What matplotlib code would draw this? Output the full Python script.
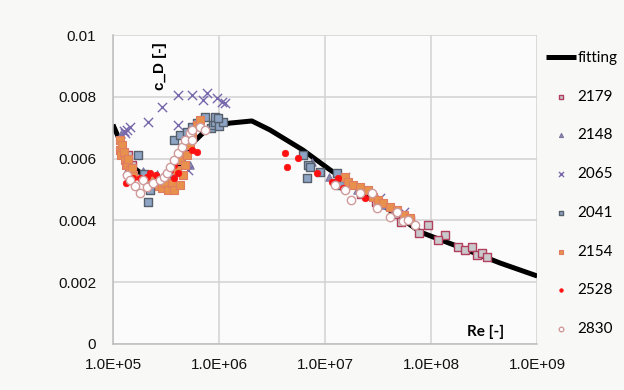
import numpy as np
import matplotlib
matplotlib.use("Agg")
import matplotlib.pyplot as plt

# fitted drag coefficient curve
fit_re = [1.0e5, 1.26e5, 1.58e5, 2.24e5, 3.16e5, 3.98e5, 5.62e5, 7.94e5, 1.26e6, 2.04e6,
          3.02e6, 6.17e6, 1.12e7, 3.16e7, 7.94e7, 2.19e8, 4.47e8, 1.0e9]
fit_cd = [0.0071, 0.0063, 0.0057, 0.0053, 0.0053, 0.0056, 0.0065, 0.0070, 0.00715, 0.00722,
          0.00693, 0.00628, 0.00563, 0.0046, 0.00362, 0.00304, 0.00262, 0.0022]

# measured series
re_2179 = [1.38e5, 1.5e5, 3.2e5, 4.6e7, 5.2e7, 6.3e7, 9.3e7, 7.6e7, 1.35e8, 1.17e8, 1.78e8, 2.09e8, 2.45e8, 2.69e8, 3.02e8, 3.39e8, 2.2e7, 3.0e7]
cd_2179 = [0.00612, 0.0058, 0.0054, 0.0042, 0.00395, 0.0040, 0.00385, 0.00359, 0.00353, 0.00337, 0.00314, 0.00304, 0.00314, 0.00288, 0.00294, 0.00282, 0.00485, 0.0046]

re_2148 = [1.2e5, 1.4e5, 1.9e5, 2.0e5, 2.6e5, 4.9e5, 5.3e5, 7.5e6, 1.1e7, 1.5e7, 2.0e7, 2.7e7, 3.6e7, 4.5e7]
cd_2148 = [0.0068, 0.0057, 0.0056, 0.0054, 0.0055, 0.0062, 0.0058, 0.0059, 0.0054, 0.0052, 0.0050, 0.0048, 0.0045, 0.0043]

re_2065 = [1.26e5, 1.29e5, 1.35e5, 1.45e5, 1.35e5, 2.14e5, 2.88e5, 4.07e5, 4.07e5, 5.62e5, 5.13e5, 7.08e5, 7.76e5, 9.55e5, 1.07e6, 1.15e6, 1.55e7, 3.31e7, 5.5e7]
cd_2065 = [0.0069, 0.00683, 0.00693, 0.00702, 0.00563, 0.00718, 0.00767, 0.00806, 0.00709, 0.00806, 0.00563, 0.0079, 0.00812, 0.00796, 0.00783, 0.0078, 0.0054, 0.00472, 0.00427]

re_2041 = [1.74e5, 1.95e5, 2.14e5, 2.24e5, 2.5e5, 3.63e5, 3.8e5, 4.27e5, 5.01e5, 5.62e5, 6.17e5, 7.41e5, 8.32e5, 8.7e5, 9.12e5, 9.12e5, 1.0e6, 1.1e6, 9.77e5,
           6.17e6, 6.92e6, 6.76e6, 7.24e6, 8.91e6, 1.29e7, 1.29e7, 1.38e7]
cd_2041 = [0.00612, 0.0055, 0.0046, 0.00498, 0.0053, 0.00553, 0.0066, 0.00676, 0.00686, 0.00702, 0.00715, 0.00735, 0.00699, 0.0071, 0.00718, 0.00735, 0.00705, 0.00718, 0.00731,
           0.00612, 0.00579, 0.00537, 0.00573, 0.00557, 0.00553, 0.00521, 0.00515]

re_2154 = [1.17e5, 1.17e5, 1.2e5, 1.23e5, 1.26e5, 1.29e5, 1.32e5, 1.35e5, 1.45e5, 1.55e5, 1.4e5, 1.5e5,
           2.24e5, 2.4e5, 2.51e5, 2.7e5, 2.88e5, 3.1e5, 3.31e5, 3.63e5, 3.8e5, 3.98e5, 4.27e5, 4.27e5, 4.47e5, 4.57e5, 4.79e5, 5.01e5, 5.37e5, 5.62e5, 6.17e5, 6.61e5,
           1.55e7, 1.66e7, 1.82e7, 2.14e7, 2.51e7, 2.82e7, 3.16e7, 3.55e7, 4.07e7, 4.79e7, 5.5e7, 6.31e7]
cd_2154 = [0.0066, 0.00628, 0.00612, 0.00644, 0.0062, 0.00595, 0.0058, 0.00579, 0.00563, 0.00547, 0.0060, 0.0057,
           0.00537, 0.0053, 0.00521, 0.0051, 0.00505, 0.0052, 0.00498, 0.00521, 0.00498, 0.00563, 0.00515, 0.00595, 0.00628, 0.00547, 0.00579, 0.00612, 0.00644, 0.00676, 0.00709, 0.00725,
           0.0054, 0.00524, 0.00515, 0.00508, 0.00498, 0.00476, 0.00465, 0.00456, 0.00443, 0.00434, 0.00417, 0.00408]

re_2528 = [1.32e5, 1.55e5, 1.78e5, 2.09e5, 2.24e5, 2.57e5, 3.47e5, 3.8e5, 4.07e5, 3.8e5, 5.62e5, 6.17e5,
           4.17e6, 4.37e6, 5.5e6, 8.32e6, 1.17e7, 1.32e7, 1.48e7, 2.4e7]
cd_2528 = [0.00521, 0.00537, 0.00537, 0.0054, 0.00553, 0.00547, 0.00563, 0.00579, 0.00553, 0.00537, 0.00628, 0.00621,
           0.00618, 0.00573, 0.00602, 0.00553, 0.00524, 0.00537, 0.00505, 0.00472]

re_2830 = [1.35e5, 1.45e5, 1.6e5, 1.78e5, 1.9e5, 2.09e5, 2.4e5, 2.75e5, 3.0e5, 3.24e5, 3.47e5, 3.8e5, 4.07e5, 4.47e5, 4.79e5, 5.37e5, 5.62e5, 6.61e5, 7.41e5, 5.62e5,
           1.23e7, 1.55e7, 1.74e7, 2.14e7, 2.75e7, 3.09e7, 4.07e7, 4.79e7, 5.37e7, 6.03e7, 7.08e7]
cd_2830 = [0.00547, 0.00531, 0.0051, 0.00489, 0.0053, 0.00508, 0.00521, 0.00531, 0.0054, 0.00553, 0.00573, 0.00595, 0.00618, 0.00638, 0.0066, 0.00683, 0.00693, 0.00702, 0.00693, 0.0066,
           0.00515, 0.005, 0.00466, 0.00489, 0.00489, 0.0044, 0.00411, 0.00427, 0.00398, 0.00401, 0.00385]

x_ticks = [1e5, 1e6, 1e7, 1e8, 1e9]
x_labels = ["1.0E+05", "1.0E+06", "1.0E+07", "1.0E+08", "1.0E+09"]
y_ticks = [0, 0.002, 0.004, 0.006, 0.008, 0.01]
y_labels = ["0", "0.002", "0.004", "0.006", "0.008", "0.01"]

plt.rcParams["font.family"] = ["Liberation Sans", "DejaVu Sans"]

fig = plt.figure(figsize=(6.24, 3.9), dpi=100, facecolor="#f8f8f7")
ax = fig.add_axes([0.181, 0.118, 0.68, 0.792])
ax.set_facecolor("#fbfbfb")

ax.plot(fit_re, fit_cd, color="black", lw=3.6, solid_capstyle="butt", zorder=2, label="fitting")

ax.scatter(re_2179, cd_2179, marker="s", s=36, facecolor="#c9c9cc", edgecolor="#b0405e", lw=1.0, zorder=3, label="2179")
ax.scatter(re_2148, cd_2148, marker="^", s=28, facecolor="#8c8aa8", edgecolor="#7a76a4", lw=0.8, zorder=3, label="2148")
ax.scatter(re_2065, cd_2065, marker="x", s=44, color="#7868ac", lw=1.0, zorder=3, label="2065")
ax.scatter(re_2041, cd_2041, marker="s", s=36, facecolor="#8ea4c4", edgecolor="#56606c", lw=1.0, zorder=3, label="2041")
ax.scatter(re_2154, cd_2154, marker="s", s=40, facecolor="#e8914c", edgecolor="#e07c62", lw=0.8, zorder=3, label="2154")
ax.scatter(re_2528, cd_2528, marker="o", s=22, facecolor="#ff1010", edgecolor="#ff1010", lw=0.5, zorder=4, label="2528")
ax.scatter(re_2830, cd_2830, marker="o", s=36, facecolor="white", edgecolor="#d09a9a", lw=1.0, zorder=4, label="2830")

ax.set_xscale("log")
ax.set_xlim(1e5, 1e9)
ax.set_ylim(0, 0.01)
ax.set_xticks(x_ticks)
ax.set_xticklabels(x_labels)
ax.set_yticks(y_ticks)
ax.set_yticklabels(y_labels)
ax.minorticks_off()
ax.tick_params(length=0, labelsize=11, colors="#111111")
ax.tick_params(axis="x", pad=10)
ax.tick_params(axis="y", pad=12)

ax.grid(True, color="#d2d2d2", lw=1.1, zorder=0)
ax.set_axisbelow(True)
for side in ["top", "right"]:
    ax.spines[side].set_visible(False)
for side in ["left", "bottom"]:
    ax.spines[side].set_color("#bdbdbd")
    ax.spines[side].set_linewidth(1.1)

ax.text(0.111, 0.9, "c_D [-]", transform=ax.transAxes, rotation=90, fontsize=11,
        fontweight="bold", ha="center", va="center")
ax.text(0.877, 0.04, "Re [-]", transform=ax.transAxes, fontsize=11, family="Lato",
        fontweight="bold", ha="center", va="center")

ax.legend(loc="upper left", bbox_to_anchor=(0.865, 0.885), bbox_transform=fig.transFigure,
          frameon=False, markerscale=0.55, handlelength=2.0, handletextpad=0.05,
          labelspacing=1.62, borderaxespad=0, prop={"family": "Lato", "size": 11})

fig.savefig("out.png", dpi=100, facecolor=fig.get_facecolor())
